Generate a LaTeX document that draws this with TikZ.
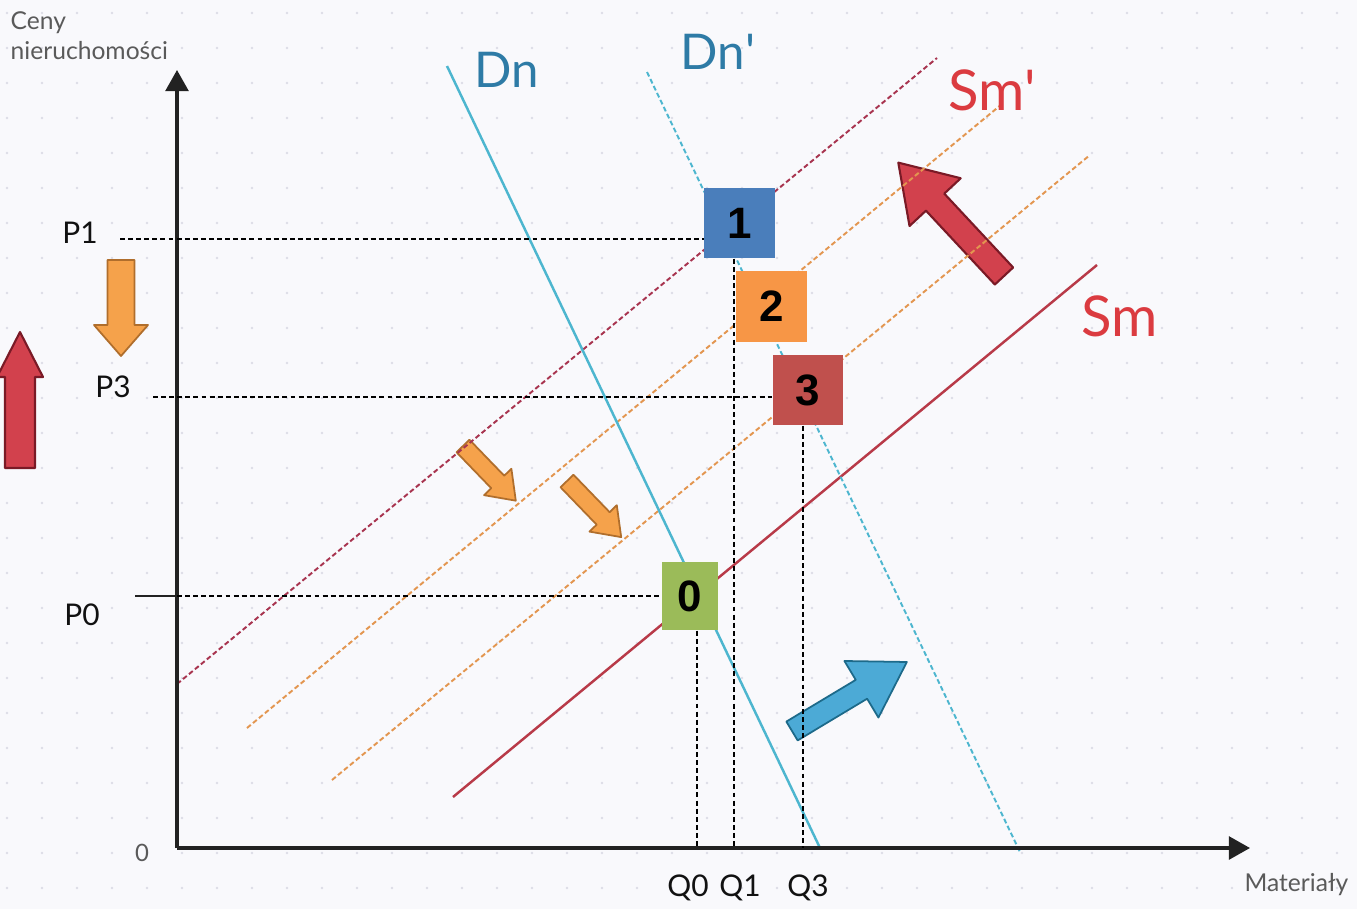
\documentclass[tikz,border=0pt]{standalone}
\usepackage{fontspec}
\setmainfont{Lato}
\newfontfamily\boxfont{Liberation Sans}
\usetikzlibrary{arrows.meta}

\newcommand{\setfs}[1]{\fontsize{#1}{#1}\selectfont}
% fat block arrow: style, tail point, angle, length, shaft half width, head half width, head length
\newcommand{\fatarrow}[7]{%
  \draw[#1, shift={#2}, rotate=#3] (0,-#5) -- ({#4-#7},-#5) -- ({#4-#7},-#6) -- (#4,0)
    -- ({#4-#7},#6) -- ({#4-#7},#5) -- (0,#5) -- cycle;}

\definecolor{paper}{HTML}{F9F9FC}
\definecolor{griddot}{HTML}{DDDDE6}
\definecolor{axisgray}{HTML}{222222}
\definecolor{axistext}{HTML}{5A5A5A}
\definecolor{labelblack}{HTML}{111111}
\definecolor{demandcol}{HTML}{4DB6CF}
\definecolor{demandtxt}{HTML}{2E7BA6}
\definecolor{supplycol}{HTML}{B83A48}
\definecolor{supplydash}{HTML}{A8344F}
\definecolor{supplytxt}{HTML}{DB3B40}
\definecolor{shiftorange}{HTML}{E39650}
\definecolor{boxblue}{HTML}{4A7EBB}
\definecolor{boxorange}{HTML}{F79646}
\definecolor{boxred}{HTML}{C0504D}
\definecolor{boxgreen}{HTML}{9BBB59}
\definecolor{arrowred}{HTML}{D2414D}
\definecolor{arrowredline}{HTML}{7A1A26}
\definecolor{arroworange}{HTML}{F5A24B}
\definecolor{arroworangeline}{HTML}{B06E2C}
\definecolor{arrowblue}{HTML}{4CAAD6}
\definecolor{arrowblueline}{HTML}{1D6A8A}

\begin{document}
\begin{tikzpicture}[x=0.01cm, y=-0.01cm,
  axis/.style={draw=axisgray, line width=0.9pt, -{Triangle[length=6pt,width=6.5pt]}},
  guide/.style={draw=black, line width=0.65pt, dash pattern=on 1.4pt off 0.9pt},
  demand/.style={draw=demandcol, line width=0.7pt},
  demandshift/.style={draw=demandcol, line width=0.55pt, dash pattern=on 1.4pt off 0.8pt},
  supply/.style={draw=supplycol, line width=0.7pt},
  supplyshift/.style={draw=supplydash, line width=0.55pt, dash pattern=on 1.4pt off 0.8pt},
  midshift/.style={draw=shiftorange, line width=0.55pt, dash pattern=on 1.4pt off 0.8pt},
  numbox/.style={minimum width=0.7cm, minimum height=0.7cm, inner sep=0pt,
    font=\boxfont\bfseries\setfs{12.5}},
  pricelab/.style={font=\setfs{8.5}, text=labelblack, inner sep=0pt},
  axislab/.style={font=\setfs{7}, text=axistext, inner sep=0pt, anchor=base west},
  curvelab/.style={font=\setfs{14}, inner sep=0pt},
  fatred/.style={fill=arrowred, draw=arrowredline, line width=0.6pt, line join=round},
  fatorange/.style={fill=arroworange, draw=arroworangeline, line width=0.5pt, line join=round},
  fatblue/.style={fill=arrowblue, draw=arrowblueline, line width=0.5pt, line join=round}]

  % paper with dotted grid
  \fill[paper] (0,0) rectangle (1357,909);
  \useasboundingbox (0,0) rectangle (1357,909);
  \foreach \i in {0,...,38}
    \foreach \j in {0,...,25}
      \fill[griddot] (7+35*\i,13+35*\j) circle (1.3);

  % shift arrows (under the curves)
  \fatarrow{fatred}{(20,468)}{90}{136}{15}{23}{45}
  \fatarrow{fatorange}{(121,260)}{-90}{96}{13.5}{27}{31}
  \fatarrow{fatorange}{(463,446)}{-46}{76}{9}{19}{26}
  \fatarrow{fatorange}{(567,481)}{-46}{78}{9}{19}{26}
  \fatarrow{fatblue}{(792,731)}{31}{134}{11}{33}{53}
  \fatarrow{fatred}{(1004,276)}{133}{155}{12.5}{35}{54}

  % curve end points
  \coordinate (dn-top) at (447,66);    \coordinate (dn-foot) at (820,848);
  \coordinate (dn2-top) at (647,72);   \coordinate (dn2-foot) at (1020,852);
  \coordinate (sm-low) at (453,797);   \coordinate (sm-high) at (1097,265);
  \coordinate (sm2-low) at (177,684);  \coordinate (sm2-high) at (937,58);
  \coordinate (mid1-low) at (247,728); \coordinate (mid1-high) at (1002,104);
  \coordinate (mid2-low) at (332,780); \coordinate (mid2-high) at (1090,155);

  % supply and demand curves
  \draw[supplyshift] (sm2-low) -- (sm2-high);
  \draw[midshift] (mid1-low) -- (mid1-high);
  \draw[midshift] (mid2-low) -- (mid2-high);
  \draw[supply] (sm-low) -- (sm-high);
  \draw[demand] (dn-top) -- (dn-foot);
  \draw[demandshift] (dn2-top) -- (dn2-foot);

  % axes
  \coordinate (origin) at (177,848);
  \coordinate (ytip) at (177,70);
  \coordinate (xtip) at (1250,848);
  \draw[axis] (origin) -- (ytip);
  \draw[axis] (origin) -- (xtip);
  \node[font=\setfs{6.8}, text=axistext] (zero) at (142,853) {0};
  \node[axislab] (ylab1) at (10,30) {Ceny};
  \node[axislab] (ylab2) at (10,60) {nieruchomości};
  \node[axislab, anchor=base east] (xlab) at (1349,891) {Materiały};

  % equilibrium boxes
  \node[numbox, fill=boxblue] (box1) at (739.5,223) {1};
  \node[numbox, fill=boxorange] (box2) at (771.5,306.5) {2};
  \node[numbox, fill=boxred] (box3) at (808,390) {3};
  \node[numbox, fill=boxgreen, minimum width=0.56cm, minimum height=0.68cm] (box0) at (690,596) {0};

  % price labels and guides
  \node[pricelab] (p1) at (80,233) {P1};
  \node[pricelab] (p3) at (113,387) {P3};
  \node[pricelab] (p0) at (82,615) {P0};
  \coordinate (p1-from) at (120,239);
  \coordinate (p3-from) at (153,397);
  \coordinate (p0-tick) at (135,596);
  \draw[guide] (p1-from) -- (box1.west |- p1-from);
  \draw[guide] (p3-from) -- (box3.west |- p3-from);
  \draw[axisgray, line width=0.7pt] (p0-tick) -- (origin |- p0-tick);
  \draw[guide] (origin |- p0-tick) -- (box0.west);

  % quantity labels and guides
  \node[pricelab] (q0) at (688,888) {Q0};
  \node[pricelab] (q1) at (740,888) {Q1};
  \node[pricelab] (q3) at (808,888) {Q3};
  \coordinate (q0-foot) at (697,848);
  \coordinate (q1-foot) at (734,848);
  \coordinate (q3-foot) at (803,848);
  \draw[guide] (q0-foot |- box0.south) -- (q0-foot);
  \draw[guide] (q1-foot |- box1.south) -- (q1-foot);
  \draw[guide] (q3-foot |- box3.south) -- (q3-foot);

  % curve labels
  \node[curvelab, text=demandtxt] (dn-lab) at (507,70) {Dn};
  \node[curvelab, text=demandtxt] (dn2-lab) at (718,52) {Dn\textquotesingle};
  \node[curvelab, text=supplytxt, font=\setfs{16}] (sm2-lab) at (992,90) {Sm\textquotesingle};
  \node[curvelab, text=supplytxt, font=\setfs{16}] (sm-lab) at (1120,316) {Sm};
\end{tikzpicture}
\end{document}
